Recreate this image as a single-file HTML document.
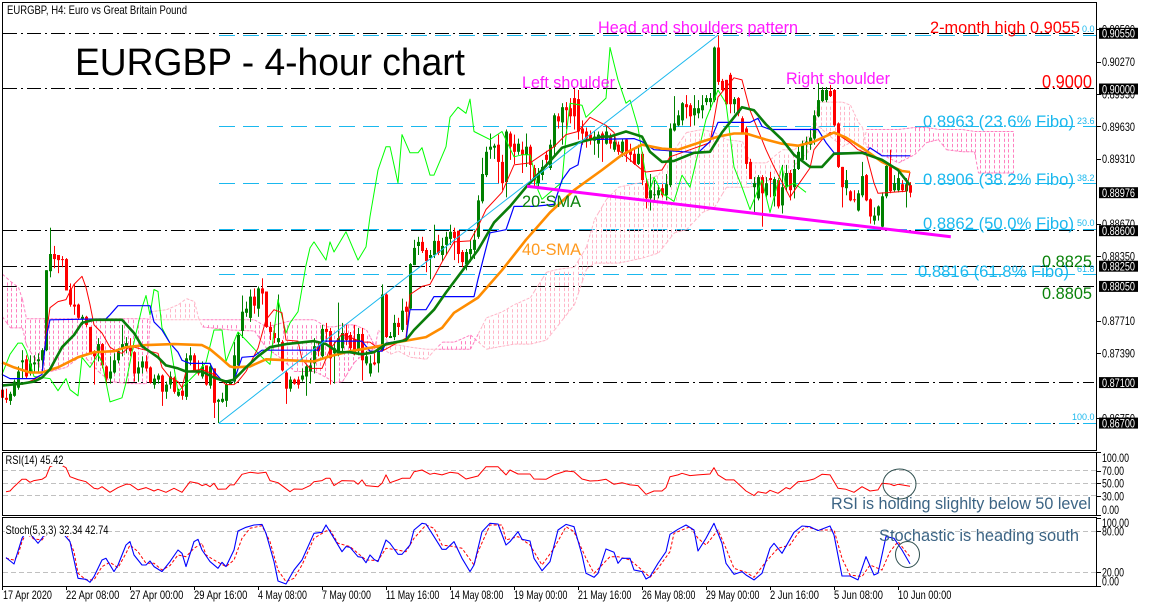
<!DOCTYPE html>
<html lang="en">
<head>
<meta charset="utf-8">
<title>EURGBP 4-hour chart</title>
<style>
html,body{margin:0;padding:0;background:#fff;width:1149px;height:607px;overflow:hidden}
svg{display:block;font-family:"Liberation Sans",sans-serif}
.ax{font-size:12px;fill:#000}
.fib{font-size:17px;fill:#1ab8ee}
.fibs{font-size:9px;fill:#1ab8ee}
.mag{font-size:16.5px;fill:#ff19ff}
.red{fill:#ff0000}
.grn{font-size:17px;fill:#0a820a}
.note{font-size:17px;fill:#3c6484}
</style>
</head>
<body>
<svg id="chart" xmlns="http://www.w3.org/2000/svg" width="1149" height="607" viewBox="0 0 1149 607">
<rect x="0" y="0" width="1149" height="607" fill="#fff"/>
<g id="levels"></g>
<g id="cloud"></g>
<g id="candles"></g>
<g id="lines"></g>
<g id="oscillators"></g>
<rect x="5" y="454" width="58" height="12" fill="#fff"/>
<rect x="5" y="524" width="103" height="12" fill="#fff"/>
<g id="frame" fill="none" stroke="#000" stroke-width="1">
<path d="M2.5 2.5H1096.5V450.5H2.5Z"/>
<path d="M2.5 452.5H1096.5V515.5H2.5Z"/>
<path d="M2.5 517.5H1096.5V586.5H2.5Z"/>
</g>
<g id="axes"></g>
<text class="ax" x="7" y="14" textLength="180" lengthAdjust="spacingAndGlyphs">EURGBP, H4:  Euro vs Great Britain Pound</text>
<text class="ax" x="5.5" y="464" textLength="58" lengthAdjust="spacingAndGlyphs">RSI(14) 45.42</text>
<text class="ax" x="5.5" y="534" textLength="103" lengthAdjust="spacingAndGlyphs">Stoch(5,3,3) 32.34 42.74</text>
<text x="75" y="75" font-size="38" fill="#000" textLength="390" lengthAdjust="spacingAndGlyphs">EURGBP - 4-hour chart</text>
<text class="mag" x="598" y="33" textLength="200" lengthAdjust="spacingAndGlyphs">Head and shoulders pattern</text>
<text class="mag" x="522" y="88" textLength="93" lengthAdjust="spacingAndGlyphs">Left shoulder</text>
<text class="mag" x="786" y="84" textLength="104" lengthAdjust="spacingAndGlyphs">Right shoulder</text>
<text class="red" font-size="17" x="930" y="33" textLength="150" lengthAdjust="spacingAndGlyphs">2-month high 0.9055</text>
<text class="red" font-size="18" x="1042" y="88" textLength="50" lengthAdjust="spacingAndGlyphs">0.9000</text>
<text class="fib" x="923" y="127" textLength="151" lengthAdjust="spacingAndGlyphs">0.8963 (23.6% Fibo)</text>
<text class="fib" x="923" y="185" textLength="151" lengthAdjust="spacingAndGlyphs">0.8906 (38.2% Fibo)</text>
<text class="fib" x="923" y="229" textLength="151" lengthAdjust="spacingAndGlyphs">0.8862 (50.0% Fibo)</text>
<text class="fib" x="918" y="277" textLength="151" lengthAdjust="spacingAndGlyphs">0.8816 (61.8% Fibo)</text>
<text class="fibs" x="1082" y="32">0.0</text>
<text class="fibs" x="1077" y="124">23.6</text>
<text class="fibs" x="1077" y="181">38.2</text>
<text class="fibs" x="1077" y="226">50.0</text>
<text class="fibs" x="1077" y="272">61.8</text>
<text class="fibs" x="1072" y="420">100.0</text>
<text class="grn" x="1042" y="267" textLength="50" lengthAdjust="spacingAndGlyphs">0.8825</text>
<text class="grn" x="1042" y="299" textLength="50" lengthAdjust="spacingAndGlyphs">0.8805</text>
<text class="grn" x="522" y="207" textLength="59" lengthAdjust="spacingAndGlyphs">20-SMA</text>
<text x="522" y="255" font-size="17" fill="#ff9a1f" textLength="59" lengthAdjust="spacingAndGlyphs">40-SMA</text>
<text class="note" x="831" y="509" textLength="260" lengthAdjust="spacingAndGlyphs">RSI is holding slighlty below 50 level</text>
<text class="note" x="879" y="541" textLength="200" lengthAdjust="spacingAndGlyphs">Stochastic is heading south</text>
<ellipse cx="899.5" cy="484" rx="16.5" ry="15" fill="none" stroke="#2f4f4f" stroke-width="1"/>
<ellipse cx="907.5" cy="554.5" rx="12" ry="13" fill="none" stroke="#2f4f4f" stroke-width="1"/>
</svg>
<script>
// ---- chart data (prices in 1/10000) ----
const highs=[8705,8704,8701,8713,8726,8742,8737,8737,8737,8739,
8744,8821,8863,8845,8836,8835,8833,8808,8807,8788,
8777,8776,8765,8742,8754,8749,8727,8736,8739,8744,
8767,8755,8754,8741,8731,8736,8737,8726,8718,8719,
8718,8711,8721,8716,8704,8708,8739,8745,8739,8732,
8731,8727,8729,8724,8694,8700,8711,8713,8750,8760,
8796,8790,8802,8803,8805,8813,8800,8770,8767,8797,
8752,8722,8716,8714,8716,8724,8727,8734,8754,8750,
8767,8769,8764,8750,8789,8769,8767,8760,8767,8764,
8764,8741,8737,8739,8745,8807,8798,8760,8777,8774,
8793,8790,8828,8851,8854,8854,8843,8841,8866,8856,
8853,8859,8866,8863,8860,8841,8842,8851,8860,8895,
8932,8943,8956,8946,8955,8935,8960,8958,8955,8951,
8948,8956,8945,8925,8922,8930,8939,8950,8976,8976,
8986,8987,8991,9000,8999,8969,8962,8959,8958,8958,
8958,8963,8956,8955,8948,8951,8951,8946,8941,8945,
8938,8912,8916,8910,8905,8906,8916,8966,8993,8979,
8987,8994,8986,8994,8989,8994,8994,8996,9042,9053,
9010,9009,9016,8992,8992,8973,8963,8931,8913,8915,
8915,8913,8918,8913,8912,8925,8925,8920,8930,8943,
8949,8953,8961,8979,9006,9002,9002,9004,9000,8967,
8923,8920,8900,8900,8900,8928,8916,8892,8883,8885,
8898,8926,8940,8915,8920,8910,8912,8908];
const lows=[8693,8690,8688,8696,8703,8714,8714,8717,8719,8721,
8724,8741,8814,8823,8818,8824,8801,8785,8777,8772,
8767,8765,8739,8708,8731,8724,8708,8709,8719,8729,
8736,8739,8736,8711,8711,8719,8721,8709,8704,8709,
8687,8694,8704,8699,8696,8693,8693,8727,8722,8717,
8714,8707,8704,8675,8670,8690,8686,8708,8709,8724,
8754,8775,8770,8778,8775,8787,8764,8752,8749,8746,
8721,8689,8701,8708,8704,8711,8697,8709,8719,8736,
8734,8750,8708,8709,8736,8741,8747,8742,8737,8737,
8712,8727,8716,8727,8720,8741,8754,8754,8752,8757,
8760,8767,8782,8826,8836,8838,8819,8812,8833,8836,
8830,8836,8846,8831,8828,8824,8821,8829,8832,8852,
8887,8913,8931,8931,8907,8900,8893,8930,8926,8935,
8917,8923,8907,8904,8903,8910,8923,8920,8935,8961,
8945,8960,8966,8960,8950,8945,8942,8945,8935,8932,
8928,8945,8941,8938,8935,8933,8928,8928,8925,8925,
8905,8882,8880,8890,8892,8893,8890,8903,8958,8963,
8964,8971,8963,8964,8971,8971,8984,8979,8987,9004,
8998,8984,8976,8976,8973,8955,8921,8911,8878,8890,
8864,8893,8893,8884,8882,8877,8900,8890,8892,8920,
8928,8930,8940,8945,8972,8987,8987,8992,8963,8922,
8883,8895,8889,8888,8879,8893,8889,8867,8866,8870,
8862,8892,8897,8898,8898,8898,8883,8893];
const opens=[8703,8695,8692,8697,8705,8730,8733,8719,8728,8731,
8732,8742,8820,8837,8836,8832,8832,8802,8787,8787,
8773,8775,8765,8739,8739,8748,8726,8714,8720,8732,
8744,8746,8746,8740,8719,8725,8731,8725,8708,8713,
8717,8701,8708,8715,8697,8702,8696,8732,8737,8722,
8716,8727,8707,8724,8691,8691,8692,8708,8711,8727,
8761,8779,8774,8795,8783,8803,8800,8765,8759,8750,
8750,8720,8704,8713,8713,8713,8716,8721,8729,8746,
8736,8763,8761,8739,8738,8744,8759,8757,8753,8741,
8758,8729,8719,8730,8729,8742,8797,8754,8755,8769,
8762,8785,8783,8826,8845,8849,8841,8833,8836,8850,
8836,8846,8852,8859,8860,8839,8827,8837,8841,8854,
8889,8915,8940,8942,8945,8928,8908,8956,8946,8938,
8940,8935,8943,8922,8907,8915,8935,8922,8943,8973,
8967,8982,8981,8991,8990,8961,8958,8955,8949,8946,
8956,8946,8953,8940,8945,8938,8950,8940,8936,8926,
8936,8907,8892,8895,8895,8902,8895,8905,8959,8964,
8969,8985,8984,8974,8976,8979,8987,8987,8989,9041,
9008,9009,9014,8985,8991,8971,8961,8928,8903,8892,
8913,8895,8912,8894,8910,8885,8903,8917,8903,8921,
8930,8945,8945,8951,8973,8988,8989,8998,8999,8966,
8923,8902,8899,8891,8880,8895,8915,8891,8870,8875,
8864,8894,8924,8900,8900,8906,8899,8905];
const closes=[8695,8693,8699,8711,8721,8732,8716,8729,8730,8733,
8742,8821,8837,8832,8831,8831,8801,8787,8785,8774,
8775,8767,8739,8736,8748,8727,8714,8721,8732,8741,
8748,8749,8741,8719,8725,8731,8724,8710,8714,8717,
8701,8708,8716,8701,8701,8697,8734,8737,8722,8719,
8726,8708,8726,8690,8693,8694,8708,8710,8737,8757,
8780,8783,8795,8786,8803,8798,8765,8760,8754,8754,
8722,8704,8713,8709,8708,8717,8726,8727,8746,8741,
8763,8760,8734,8744,8754,8759,8752,8744,8739,8758,
8732,8736,8729,8728,8741,8797,8755,8756,8769,8765,
8781,8780,8827,8843,8849,8840,8830,8836,8850,8838,
8845,8854,8859,8853,8837,8829,8839,8842,8851,8890,
8916,8938,8943,8944,8928,8907,8958,8943,8938,8946,
8935,8943,8925,8910,8917,8923,8930,8945,8974,8968,
8982,8979,8973,8973,8958,8956,8951,8950,8953,8955,
8950,8958,8946,8948,8938,8948,8936,8935,8926,8936,
8910,8892,8900,8896,8900,8895,8906,8961,8966,8974,
8986,8982,8973,8981,8981,8984,8991,8991,9041,9007,
8999,8985,8985,8990,8976,8956,8926,8911,8907,8913,
8897,8907,8910,8911,8884,8903,8917,8900,8921,8938,
8946,8948,8952,8974,8989,8999,8999,8993,8964,8923,
8903,8910,8890,8890,8897,8914,8890,8874,8875,8884,
8894,8924,8899,8907,8912,8900,8906,8897.6];

const sma20=[[0,8707],[5,8709],[8,8711],[10,8715],[12,8723],[15,8745],[18,8757],[20,8769],[23,8772],[30,8772],[33,8759],[35,8746],[39,8735],[41,8727],[44,8724],[46,8721],[50,8721],[53,8715],[56,8711],[58,8713],[61,8725],[64,8736],[67,8745],[71,8748],[78,8751],[81,8748],[84,8740],[87,8740],[90,8738],[93,8740],[96,8748],[101,8752],[103,8762],[108,8782],[111,8799],[115,8820],[119,8841],[123,8868],[127,8884],[131,8903],[135,8920],[140,8942],[145,8948],[150,8953],[152,8953],[156,8958],[160,8953],[162,8938],[165,8928],[168,8929],[173,8937],[177,8938],[180,8957],[183,8972],[185,8982],[188,8979],[191,8965],[195,8950],[198,8935],[202,8923],[205,8923],[208,8936],[215,8937],[220,8930],[224,8920],[227,8905]];
const sma40=[[0,8730],[3,8725],[7,8720],[10,8720],[14,8725],[19,8735],[23,8740],[28,8741],[31,8745],[36,8747],[43,8748],[50,8747],[52,8743],[55,8733],[57,8726],[58,8725],[62,8726],[66,8733],[72,8732],[78,8731],[82,8736],[87,8741],[93,8745],[99,8750],[106,8755],[110,8764],[113,8779],[119,8794],[125,8821],[131,8851],[137,8878],[143,8900],[150,8920],[155,8935],[160,8945],[165,8941],[169,8940],[175,8948],[179,8953],[183,8956],[186,8956],[191,8950],[195,8946],[199,8944],[203,8948],[208,8957],[211,8952],[215,8942],[220,8928],[225,8919],[227,8918]];
const kijun=[[0,8718],[2,8714],[8,8714],[10,8718],[11,8754],[12,8772],[26,8773],[27,8777],[29,8786],[37,8786],[38,8770],[40,8762],[42,8749],[44,8740],[45,8732],[47,8729],[52,8729],[53,8721],[55,8712],[58,8712],[60,8735],[63,8736],[65,8742],[79,8742],[80,8751],[90,8751],[92,8741],[95,8741],[96,8749],[101,8752],[102,8782],[106,8782],[108,8795],[118,8795],[119,8812],[122,8858],[126,8861],[128,8884],[133,8884],[138,8886],[140,8910],[142,8921],[144,8925],[145,8947],[146,8950],[158,8951],[160,8948],[163,8940],[174,8937],[177,8948],[179,8967],[187,8967],[189,8971],[190,8963],[192,8960],[204,8960],[206,8947],[208,8937],[216,8937],[217,8942],[220,8934],[227,8934]];
const tenkan=[[5,8708],[8,8713],[10,8718],[11,8757],[12,8784],[14,8790],[16,8792],[17,8800],[18,8807],[20,8815],[21,8804],[22,8787],[23,8767],[25,8759],[27,8745],[29,8740],[30,8739],[32,8746],[39,8739],[40,8725],[42,8715],[44,8711],[45,8705],[46,8721],[50,8723],[53,8718],[56,8708],[58,8708],[59,8711],[61,8721],[64,8744],[66,8772],[68,8782],[70,8779],[71,8752],[74,8751],[75,8733],[77,8724],[80,8724],[82,8743],[85,8758],[90,8750],[92,8750],[95,8741],[101,8754],[102,8797],[105,8805],[107,8807],[110,8829],[113,8849],[117,8850],[119,8864],[121,8881],[125,8898],[128,8925],[132,8927],[138,8943],[141,8955],[144,8958],[147,8972],[151,8964],[153,8957],[154,8940],[160,8920],[161,8918],[165,8920],[167,8933],[177,8947],[179,8992],[183,9011],[185,9009],[187,8979],[191,8940],[193,8923],[197,8893],[199,8905],[202,8922],[203,8940],[205,8950],[207,8957],[209,8955],[212,8947],[214,8940],[216,8937],[218,8907],[219,8897],[226,8899],[227,8918]];
const chikou=[[0,8718],[2,8738],[4,8749],[5,8749],[6,8742],[8,8716],[12,8714],[14,8702],[16,8714],[17,8703],[19,8697],[20,8735],[22,8725],[24,8738],[25,8730],[27,8691],[30,8695],[31,8710],[33,8750],[35,8784],[36,8796],[37,8777],[38,8802],[39,8800],[40,8764],[42,8749],[43,8725],[44,8701],[46,8709],[49,8721],[51,8730],[53,8762],[55,8762],[56,8731],[57,8741],[59,8760],[61,8752],[65,8735],[67,8728],[69,8792],[71,8759],[72,8769],[74,8780],[76,8826],[77,8843],[78,8849],[81,8831],[82,8849],[83,8839],[86,8859],[89,8831],[91,8844],[92,8874],[94,8920],[96,8943],[97,8943],[99,8907],[100,8955],[102,8937],[104,8937],[105,8942],[107,8915],[108,8915],[111,8943],[112,8972],[114,8982],[116,8976],[117,8990],[118,8958],[122,8950],[125,8958],[128,8933],[130,8935],[132,8935],[133,8920],[134,8900],[135,8891],[140,8908],[141,8953],[142,8986],[145,8984],[146,8972],[151,8991],[152,9041],[154,9009],[156,8986],[157,8989],[159,8962],[161,8913],[162,8900],[163,8913],[165,8897],[168,8889],[170,8915],[172,8903],[176,8970],[179,8999],[181,8986],[183,8923],[185,8903],[187,8881],[190,8910],[192,8878],[195,8923],[196,8903],[198,8907],[201,8898]];
const cloudBars=[0,2,4,5,6,10,12,16,20,24,27,32,36,37,41,44,46,48,49,50,57,63,66,70,73,78,81,83,85,88,91,93,94,97,99,102,106,108,110,113,117,121,125,128,132,136,139,143,146,148,151,154,160,164,168,171,175,178,181,185,187,191,195,198,202,204,210,212,214,215,216,220,224,228,231,234,236,240,243,244,253];
const spanA=[8775,8764,8764,8764,8747,8721,8721,8725,8738,8721,8711,8709,8709,8780,8782,8787,8793,8790,8774,8765,8762,8761,8744,8733,8721,8721,8715,8710,8711,8730,8741,8743,8762,8747,8747,8745,8743,8743,8743,8743,8743,8774,8780,8787,8794,8819,8822,8824,8844,8871,8891,8903,8908,8915,8940,8957,8960,8957,8950,8948,8927,8927,8940,8940,8955,8987,8987,8984,8967,8962,8943,8935,8927,8935,8947,8950,8940,8938,8938,8917,8917];
const spanB=[8817,8810,8804,8792,8773,8773,8773,8773,8773,8773,8773,8773,8773,8772,8772,8772,8772,8772,8772,8772,8772,8772,8765,8769,8772,8772,8765,8765,8767,8767,8762,8747,8747,8738,8741,8735,8733,8742,8750,8750,8757,8743,8746,8748,8748,8752,8767,8787,8822,8828,8828,8828,8833,8838,8858,8861,8878,8883,8903,8903,8903,8910,8905,8925,8940,8963,8943,8947,8940,8940,8960,8960,8960,8962,8962,8960,8960,8960,8958,8958,8958];
const rsiValues=[[1,36.8],[2,37.9],[3,44.7],[5,56.3],[6,56.3],[7,51.6],[8,54.2],[10,56.3],[11,60.5],[12,76.3],[14,81.6],[16,74.7],[17,60.5],[19,55.8],[21,52.6],[23,42.1],[24,41],[25,44.7],[27,35.8],[29,43.2],[31,48.4],[32,48.4],[34,39.5],[36,43.2],[38,37.9],[39,40.5],[41,35.8],[43,42.1],[45,35.8],[47,52.6],[49,50],[50,46.3],[51,48.4],[52,44.7],[53,50],[54,40.5],[56,41],[57,47.4],[58,47.4],[60,64.2],[62,67.4],[64,65.8],[66,67.4],[67,54.2],[69,51],[72,36.8],[73,41],[75,40.5],[77,46.3],[78,52.6],[80,54.2],[81,57.9],[82,57.9],[83,46.3],[85,54.2],[88,53.7],[89,48.4],[90,55.3],[91,46.3],[94,44.7],[95,50],[96,63.2],[97,51],[99,55.3],[100,57.9],[102,57.9],[103,68.4],[105,71],[107,64.2],[108,65.8],[110,63.2],[112,67.4],[114,65.8],[116,56.8],[119,61.6],[121,76.3],[124,76.3],[126,63.2],[127,71],[129,64.7],[132,64.7],[133,56.8],[136,56.3],[138,63.2],[141,69.5],[143,68.4],[145,56.8],[147,53.7],[149,54.2],[151,56.3],[153,48.4],[155,51],[157,47.4],[159,46.3],[161,32.6],[163,37.9],[165,37.9],[166,43.2],[167,60.5],[169,63.2],[170,65.8],[172,62.1],[174,63.2],[177,64.7],[178,74.7],[179,63.2],[181,55.3],[183,55.3],[186,37.9],[188,30.5],[189,36.8],[191,34.2],[192,38.9],[194,34.2],[196,43.2],[197,41],[199,52.6],[201,53.7],[203,56.8],[205,64.2],[207,63.2],[209,42.1],[211,40.5],[213,35.8],[215,44.7],[217,37.9],[219,39.5],[220,50],[222,48.9],[223,46.3],[224,48.4],[227,45.42]];
const stochK=[[1,41.5],[3,32.2],[5,69.8],[6,79.5],[7,77.1],[9,62.4],[10,69.8],[11,78.5],[13,84.4],[15,78.5],[17,64.9],[19,11.2],[21,9.8],[22,5.4],[23,13.7],[25,38],[26,40.5],[28,21],[29,30.7],[31,60],[32,64.9],[33,45.4],[35,30.7],[36,30.7],[37,36.6],[38,28.3],[40,21],[42,35.6],[44,52.7],[45,47.8],[46,28.3],[48,64.9],[49,68.3],[50,52.7],[52,35.6],[54,25.9],[55,34.6],[56,28.3],[58,52.7],[59,80.5],[61,85.9],[63,89.3],[65,90.2],[66,77.1],[68,35.6],[69,7.3],[71,2.9],[73,23.4],[75,38],[78,77.1],[80,78.5],[81,89.3],[83,69.8],[85,50.2],[86,57.6],[87,56.6],[89,42.9],[90,42],[91,34.1],[92,45.4],[93,39],[94,35.6],[96,67.3],[97,62.4],[99,46.3],[100,46.3],[102,60],[103,82],[105,91.7],[106,90.7],[108,72.2],[110,53.7],[111,53.7],[113,64.9],[115,40.5],[117,21],[118,30.7],[120,79.5],[122,91.7],[124,90.7],[126,60],[127,64.9],[129,79.5],[130,68.3],[132,65.9],[133,40.5],[135,22.4],[137,35.6],[139,82],[141,90.2],[143,86.8],[145,45.4],[146,18.5],[148,12.7],[149,18.5],[151,54.1],[153,49.3],[154,33.2],[155,40.5],[157,40.5],[158,23.4],[160,21],[161,10.2],[162,13.7],[164,33.2],[166,50.2],[167,75.6],[169,82.9],[171,89.3],[173,82],[174,51.2],[176,69.8],[178,91.7],[180,62.4],[181,33.2],[183,17.1],[185,21],[186,16.1],[188,8.8],[190,18.5],[192,55.1],[193,62.4],[195,47.8],[198,78.5],[200,87.8],[202,86.8],[204,81],[207,87.8],[208,74.6],[210,14.6],[212,14.6],[214,8.8],[216,42.9],[218,16.1],[219,18.5],[221,72.2],[223,69.8],[225,52.7],[227,32.34]];
const stochD=[[1,40.5],[3,38],[4,45.4],[5,64.9],[6,77.1],[8,68.8],[10,67.3],[11,75.6],[16,78.5],[18,50.2],[19,18.5],[21,8.8],[23,8.8],[25,28.3],[27,34.6],[29,26.8],[31,47.8],[32,60],[34,50.2],[36,33.2],[38,33.2],[40,23.4],[42,29.8],[44,45.4],[46,42.9],[48,55.1],[50,62.4],[51,45.4],[53,38],[56,28.3],[58,38],[60,69.8],[62,84.4],[65,88.3],[67,64.9],[69,23.4],[71,6.3],[73,11.2],[75,30.7],[78,69.8],[81,80.5],[82,82],[84,62.4],[87,57.6],[88,52.7],[91,38],[94,37.1],[96,55.1],[99,52.7],[101,50.2],[103,69.8],[106,89.3],[108,84.4],[110,60],[113,57.6],[115,55.1],[118,30.7],[119,50.2],[122,89.3],[125,89.3],[126,67.3],[129,72.2],[132,60],[135,30.7],[138,55.1],[141,86.8],[143,79.5],[146,40.5],[148,18.5],[150,30.7],[152,42.9],[154,42.9],[157,38],[159,28.3],[162,12.7],[164,25.9],[167,50.2],[168,77.1],[172,86.8],[174,69.8],[176,60],[179,82],[181,55.1],[183,25.9],[186,20],[188,12.7],[191,35.6],[194,55.1],[197,60],[199,77.1],[201,86.8],[204,82],[208,82],[210,40.5],[212,16.1],[215,13.7],[217,30.7],[220,23.4],[222,50.2],[224,64.9],[227,42.74]];

const timeLabels=["17 Apr 2020","22 Apr 08:00","27 Apr 00:00","29 Apr 16:00","4 May 08:00","7 May 00:00","11 May 16:00","14 May 08:00","19 May 00:00","21 May 16:00","26 May 08:00","29 May 00:00","2 Jun 16:00","5 Jun 08:00","10 Jun 00:00"];
const priceTicks=[9059,9027,8995,8963,8931,8867,8835,8771,8739,8675];
const priceMarkers=[9055,9000,8897.6,8860,8825,8805,8710,8670];
const horizontalLevels=[9055,9000,8860,8825,8805,8710,8670];
const fiboRatios=[0,23.6,38.2,50,61.8,100];
const fiboHigh=9053.3;
const fiboLow=8670;
const rsiTicks=[100,70,50,30,0];
const rsiLevels=[70,50,30];
const stochTicks=[100,80,20,0];
const stochLevels=[80,20];
const necklineBars=[131.25,237.2];
const necklinePrices=[8904,8854];

// ---- axis functions ----
const NS="http://www.w3.org/2000/svg";
const xBar=i=>2+4*i;
const yPrice=p=>33.3+(9055-p)*1.0125;
const yRsi=v=>483.3-(v-50)*0.633;
const yStoch=v=>572.3-(v-20)*0.683;
const snap=y=>Math.floor(y)+0.5;
const clampY=(y,a,b)=>Math.min(b,Math.max(a,y));
function make(tag,parent,attrs){const e=document.createElementNS(NS,tag);for(const k in attrs)e.setAttribute(k,attrs[k]);parent.appendChild(e);return e;}
function polyline(parent,pts,yFn,color,width,dash){
  const a={fill:"none",stroke:color,"stroke-width":width,"stroke-linejoin":"round",points:pts.map(p=>xBar(p[0]).toFixed(1)+","+yFn(p[1]).toFixed(1)).join(" ")};
  if(dash)a["stroke-dasharray"]=dash;
  return make("polyline",parent,a);
}
const gLevels=document.getElementById("levels"),gCloud=document.getElementById("cloud"),gCandles=document.getElementById("candles"),gLines=document.getElementById("lines"),gOsc=document.getElementById("oscillators"),gAxes=document.getElementById("axes");

// horizontal dash-dot levels
horizontalLevels.forEach(p=>{
  const y=snap(yPrice(p));
  const l=make("line",gLevels,{x1:3,x2:1094,y1:y,y2:y,stroke:"#000","stroke-width":1,"stroke-dasharray":"14 4 2 4"});
  
  
});
// fibonacci retracement
const fiboY=r=>yPrice(fiboHigh-(fiboHigh-fiboLow)*r/100);
fiboRatios.forEach(r=>{
  const y=snap(fiboY(r));
  const l=make("line",gLevels,{x1:xBar(54)+1,x2:1096,y1:y,y2:y,stroke:"#1ab8ee","stroke-width":1,"stroke-dasharray":"16 8"});
  
  
});

// ichimoku cloud: a hatch grid of short dashes aligned in rows, plus dashed edges
let hotD="",lightD="",hotE="",lightE="";
function interp(arr,i){
  for(let k=0;k<cloudBars.length-1;k++){
    if(i>=cloudBars[k]&&i<=cloudBars[k+1]){
      const t=(i-cloudBars[k])/(cloudBars[k+1]-cloudBars[k]);
      return arr[k]+(arr[k+1]-arr[k])*t;
    }
  }
  return arr[arr.length-1];
}
const hatchRow=5.33;
for(let i=0;i<=253;i+=1.17){
  const a=interp(spanA,i),b=interp(spanB,i);
  const x=Math.round(xBar(i))+0.5;
  const top=yPrice(Math.max(a,b)),bot=yPrice(Math.min(a,b));
  let s="";
  for(let y=Math.ceil(top/hatchRow)*hatchRow;y<bot;y+=hatchRow){
    s+=`M${x} ${y.toFixed(1)}V${Math.min(y+3.3,bot).toFixed(1)}`;
  }
  if(a>=b)lightD+=s;else hotD+=s;
}
for(let i=0;i<253;i++){
  const a=interp(spanA,i),b=interp(spanB,i),x=xBar(i)+0.5;
  const e=`M${x} ${yPrice(a).toFixed(1)}L${x+4} ${yPrice(interp(spanA,i+1)).toFixed(1)}M${x} ${yPrice(b).toFixed(1)}L${x+4} ${yPrice(interp(spanB,i+1)).toFixed(1)}`;
  if(a>=b)lightE+=e;else hotE+=e;
}
const lightHatch=make("path",gCloud,{d:lightD,fill:"none",stroke:"#ffb6c8","stroke-width":1});


const hotHatch=make("path",gCloud,{d:hotD,fill:"none",stroke:"#ff80c0","stroke-width":1});


const lightEdge=make("path",gCloud,{d:lightE,fill:"none",stroke:"#ffb6c8","stroke-width":1,"stroke-dasharray":"3 2"});


const hotEdge=make("path",gCloud,{d:hotE,fill:"none",stroke:"#ff80c0","stroke-width":1,"stroke-dasharray":"3 2"});



// candles
closes.forEach((c,i)=>{
  const o=opens[i],up=c>=o,col=up?"#008000":"#ff0000",x=xBar(i);
  const g=make("g",gCandles,{fill:col});
  
  
  const yh=yPrice(highs[i]),yl=yPrice(lows[i]);
  make("rect",g,{x:x,y:yh.toFixed(1),width:1,height:(yl-yh).toFixed(1)});
  const t=yPrice(Math.max(o,c)),b=yPrice(Math.min(o,c));
  make("rect",g,{x:x-1,y:t.toFixed(1),width:3,height:Math.max(1,b-t).toFixed(1)});
});

// indicator lines
const chikouLine=polyline(gLines,chikou,yPrice,"#00ff00",1);


const tenkanLine=polyline(gLines,tenkan,yPrice,"#ff0000",1);


const kijunLine=polyline(gLines,kijun,yPrice,"#0000ff",1.2);


const sma40Line=polyline(gLines,sma40,yPrice,"#ff8c00",2.6);


const sma20Line=polyline(gLines,sma20,yPrice,"#0a7d0a",2.6);


const fiboTrend=make("line",gLines,{x1:xBar(54)+1,y1:fiboY(100).toFixed(1),x2:xBar(179),y2:fiboY(0).toFixed(1),stroke:"#1ab8ee","stroke-width":1});


const neck=make("line",gLines,{x1:xBar(necklineBars[0]),y1:yPrice(necklinePrices[0]).toFixed(1),x2:xBar(necklineBars[1]),y2:yPrice(necklinePrices[1]).toFixed(1),stroke:"#ff00ff","stroke-width":3});



// oscillators
rsiLevels.forEach(v=>{
  const y=snap(yRsi(v));
  const l=make("line",gOsc,{x1:3,x2:1096,y1:y,y2:y,stroke:"#c0c0c0","stroke-width":1,"stroke-dasharray":"5 3"});
  
  
});
stochLevels.forEach(v=>{
  const y=snap(yStoch(v));
  const l=make("line",gOsc,{x1:3,x2:1096,y1:y,y2:y,stroke:"#c0c0c0","stroke-width":1,"stroke-dasharray":"5 3"});
  
  
});
const rsiLine=polyline(gOsc,rsiValues,yRsi,"#ff0000",1);


const dLine=polyline(gOsc,stochD,yStoch,"#ff0000",1,"3 2");


const kLine=polyline(gOsc,stochK,yStoch,"#0000ff",1.1);



// axes
function axisText(txt,x,y,fill,len){
  const t=make("text",gAxes,{x:x,y:y,"font-size":12,fill:fill,textLength:len,lengthAdjust:"spacingAndGlyphs"});
  t.textContent=txt;
  return t;
}
const oscLabelWidth=v=>v===100?27:(v===0?17:22);
timeLabels.forEach((lab,k)=>{
  const x=xBar(16*k);
  const tick=make("rect",gAxes,{x:x,y:586,width:1,height:4,fill:"#000"});
  
  
  const t=axisText(lab,k===0?x+1:x,599,"#000",lab.length*4.45);
  
  
});
priceTicks.forEach(p=>{
  const y=yPrice(p);
  const tick=make("rect",gAxes,{x:1097,y:Math.round(y),width:4,height:1,fill:"#000"});
  
  
  const t=axisText("0."+Math.round(p*10),1102,(y+4.3).toFixed(1),"#000",33);
  
  
});
priceMarkers.forEach(p=>{
  const y=yPrice(p);
  const box=make("rect",gAxes,{x:1099,y:(y-5.5).toFixed(1),width:39,height:11,fill:"#000"});
  
  
  const t=axisText("0."+Math.round(p*10),1102,(y+4.3).toFixed(1),"#fff",33);
  
  
});
rsiTicks.forEach(v=>{
  const y=clampY(yRsi(v),457.5,509.5);
  const tick=make("rect",gAxes,{x:1097,y:Math.round(yRsi(v)),width:4,height:1,fill:"#000"});
  
  
  const t=axisText(v.toFixed(2),1102,(y+4.3).toFixed(1),"#000",oscLabelWidth(v));
  
  
});
stochTicks.forEach(v=>{
  const y=clampY(yStoch(v),522.5,581);
  const tick=make("rect",gAxes,{x:1097,y:Math.round(yStoch(v)),width:4,height:1,fill:"#000"});
  
  
  const t=axisText(v.toFixed(2),1102,(y+4.3).toFixed(1),"#000",oscLabelWidth(v));
  
  
});
</script>
</body>
</html>
